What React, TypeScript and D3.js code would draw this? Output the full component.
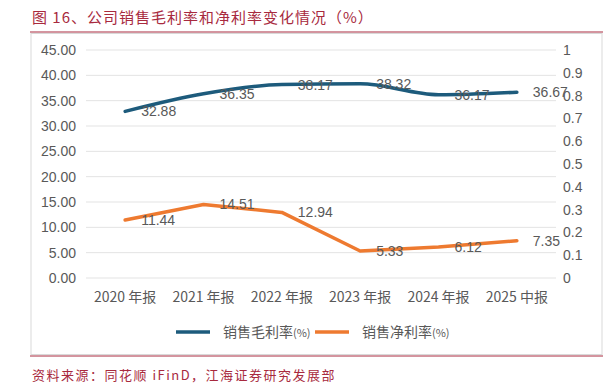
import React from 'react';
import * as d3 from 'd3';

const categories = ['2020 年报', '2021 年报', '2022 年报', '2023 年报', '2024 年报', '2025 中报'];
const grossMargin = [32.88, 36.35, 38.17, 38.32, 36.17, 36.67];
const netMargin = [11.44, 14.51, 12.94, 5.33, 6.12, 7.35];
const leftTicks = [0, 5, 10, 15, 20, 25, 30, 35, 40, 45];
const rightTicks = [0, 0.1, 0.2, 0.3, 0.4, 0.5, 0.6, 0.7, 0.8, 0.9, 1];

const W = 603;
const H = 386;
const plot = { left: 86, right: 556, top: 50, bottom: 278 };
const blue = '#1d5b7c';
const orange = '#ee7a30';
const red = '#a82a3e';
const cjk = '"Noto Sans CJK SC", "Liberation Sans", sans-serif';
const num = '"Liberation Sans", Arial, sans-serif';

const App: React.FC = () => {
  const x = d3.scaleBand<string>().domain(categories).range([plot.left, plot.right]);
  const yL = d3.scaleLinear().domain([0, 45]).range([plot.bottom, plot.top]);
  const yR = d3.scaleLinear().domain([0, 1]).range([plot.bottom, plot.top]);
  const cx = (i: number) => (x(categories[i]) ?? 0) + x.bandwidth() / 2;

  const grossLine = d3
    .line<number>()
    .x((_, i) => cx(i))
    .y((d) => yL(d))
    .curve(d3.curveMonotoneX);
  const netLine = d3
    .line<number>()
    .x((_, i) => cx(i))
    .y((d) => yL(d));

  return (
    <svg width={W} height={H} style={{ position: 'absolute', left: 0, top: 0, background: '#fff' }}>
      <text x={32} y={23} fill={red} fontFamily={cjk} fontSize={15} letterSpacing={1}>
        图 16、公司销售毛利率和净利率变化情况（%）
      </text>
      <line x1={30} x2={W} y1={32} y2={32} stroke={red} strokeWidth={1} />
      <rect x={31} y={33.5} width={W - 32} height={321} fill="none" stroke="#d9d9d9" strokeWidth={1} />

      {leftTicks.map((t) => (
        <g key={t}>
          <line x1={plot.left} x2={plot.right} y1={yL(t)} y2={yL(t)} stroke="#e3e3e3" strokeWidth={1} />
          <text x={76} y={yL(t)} dy="0.35em" textAnchor="end" fill="#595959" fontFamily={num} fontSize={14}>
            {t.toFixed(2)}
          </text>
        </g>
      ))}
      {rightTicks.map((t) => (
        <text key={t} x={563} y={yR(t)} dy="0.35em" fill="#595959" fontFamily={num} fontSize={14}>
          {String(Math.round(t * 10) / 10)}
        </text>
      ))}

      {categories.map((c, i) => (
        <text key={c} x={cx(i)} y={297} dy="0.35em" textAnchor="middle" fill="#595959" fontFamily={cjk} fontSize={14}>
          {c}
        </text>
      ))}

      <path d={grossLine(grossMargin) ?? ''} fill="none" stroke={blue} strokeWidth={3.5} strokeLinecap="round" />
      <path d={netLine(netMargin) ?? ''} fill="none" stroke={orange} strokeWidth={3.5} strokeLinecap="round" strokeLinejoin="round" />

      {grossMargin.map((v, i) => (
        <text key={'g' + i} x={cx(i) + 16} y={yL(v)} dy="0.35em" fill="#595959" fontFamily={num} fontSize={14}>
          {v.toFixed(2)}
        </text>
      ))}
      {netMargin.map((v, i) => (
        <text key={'n' + i} x={cx(i) + 16} y={yL(v)} dy="0.35em" fill="#595959" fontFamily={num} fontSize={14}>
          {v.toFixed(2)}
        </text>
      ))}

      <g>
        <line x1={176} x2={210} y1={332} y2={332} stroke={blue} strokeWidth={3.5} />
        <text x={223} y={332} dy="0.35em" fill="#595959" fontFamily={cjk} fontSize={14}>
          销售毛利率<tspan fontSize={11}>(%)</tspan>
        </text>
        <line x1={315} x2={349} y1={332} y2={332} stroke={orange} strokeWidth={3.5} />
        <text x={362} y={332} dy="0.35em" fill="#595959" fontFamily={cjk} fontSize={14}>
          销售净利率<tspan fontSize={11}>(%)</tspan>
        </text>
      </g>

      <line x1={30} x2={W} y1={356} y2={356} stroke={red} strokeWidth={1} />
      <text x={32} y={380} fill={red} fontFamily={cjk} fontSize={13} letterSpacing={1.5}>
        资料来源：同花顺 iFinD，江海证券研究发展部
      </text>
    </svg>
  );
};

export default App;
